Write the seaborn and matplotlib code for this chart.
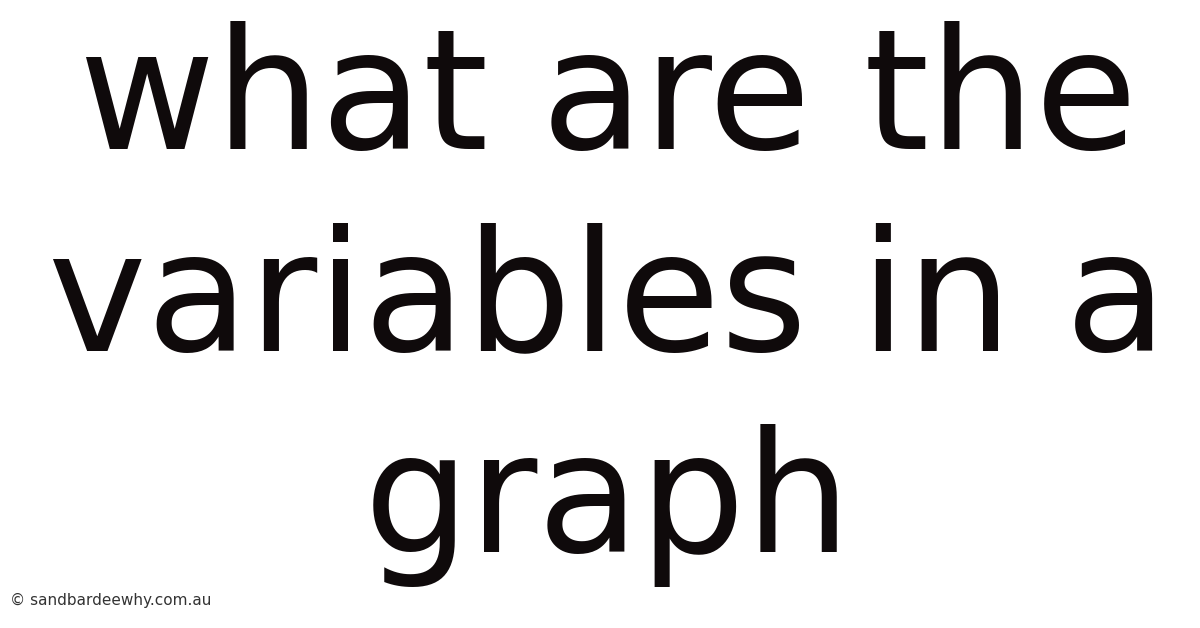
import matplotlib
import matplotlib.pyplot as plt
import seaborn as sns

matplotlib.use('Agg')

title_lines = ['what are the', 'variables in a', 'graph']
watermark = '\u00a9 sandbardeewhy.com.au'

W, H = 1200, 628
DPI = 100


def main():
    sns.set_theme(style='white')
    plt.rcParams['font.family'] = ['DejaVu Sans']
    fig = plt.figure(figsize=(W / DPI, H / DPI), dpi=DPI)
    fig.patch.set_facecolor('white')
    ax = fig.add_axes([0, 0, 1, 1])
    ax.set_axis_off()

    # baselines in pixels from top
    baselines = [149, 350, 552]
    for line, base in zip(title_lines, baselines):
        fig.text(608 / W, 1 - base / H, line, ha='center', va='baseline',
                 fontsize=120, color='#0f0a0b')

    fig.text(10 / W, 1 - 605 / H, watermark, ha='left', va='baseline',
             fontsize=11, color='#333333')

    plt.savefig('out.png', dpi=DPI, facecolor='white')


if __name__ == '__main__':
    main()
